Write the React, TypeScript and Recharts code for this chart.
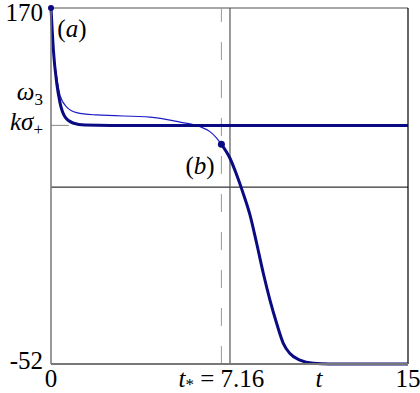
import { LineChart, Line, XAxis, YAxis, ReferenceLine, ReferenceDot } from 'recharts';

const FONT = "'Liberation Serif', 'DejaVu Serif', serif";
const NAVY = '#0a0a82';
const BLUE = '#1c1cc8';

const Y_MIN = -52;
const Y_MAX = 170;
const T_MAX = 15;
const T_STAR = 7.16;
const T_CROSS = 7.52;
const K_SIGMA = 96.8;
const OMEGA_3 = 114.5;
const LEVEL = 58.3;
const T_LABEL = 11.26;

// thick curve (a): fast decay onto k*sigma+
const curveA = [
  { t: 0, v: 170 },
  { t: 0.05, v: 156 },
  { t: 0.1, v: 143.8 },
  { t: 0.24, v: 123.2 },
  { t: 0.38, v: 110.8 },
  { t: 0.59, v: 102.0 },
  { t: 0.92, v: 98.3 },
  { t: 1.43, v: 97.0 },
  { t: 2.5, v: 96.8 },
  { t: 15, v: 96.8 },
];

// thin curve: slow decay up to t*
const curveThin = [
  { t: 0, v: 170 },
  { t: 0.08, v: 147 },
  { t: 0.24, v: 127 },
  { t: 0.38, v: 115.5 },
  { t: 0.66, v: 108.2 },
  { t: 1.08, v: 104.8 },
  { t: 1.92, v: 103.3 },
  { t: 4.16, v: 102 },
  { t: 5.42, v: 98.8 },
  { t: 6.26, v: 96.0 },
  { t: 6.68, v: 92.9 },
  { t: 6.96, v: 88.9 },
  { t: 7.16, v: 85.0 },
];

// thick curve (b): after t*
const curveB = [
  { t: 7.16, v: 85.0 },
  { t: 7.52, v: 76.3 },
  { t: 7.8, v: 66 },
  { t: 8.05, v: 55.5 },
  { t: 8.36, v: 41 },
  { t: 8.64, v: 23.3 },
  { t: 8.92, v: 4.6 },
  { t: 9.2, v: -12.1 },
  { t: 9.48, v: -26.6 },
  { t: 9.76, v: -39.1 },
  { t: 10.04, v: -45.5 },
  { t: 10.46, v: -49.6 },
  { t: 11.02, v: -51.6 },
  { t: 11.7, v: -52 },
  { t: 15, v: -52 },
];

const xTicks = [0, T_STAR, T_LABEL, T_MAX];
const yTicks = [Y_MIN, K_SIGMA, OMEGA_3, Y_MAX];

const textStyle = { fontFamily: FONT, fontSize: 25 };
const subStyle = { fontSize: 17 };

const YTick = ({ x, y, payload }: any) => {
  const v = payload.value;
  const base = { x: x, y: y, textAnchor: 'end' as const, fill: '#000', style: textStyle };
  if (v === OMEGA_3) {
    return (
      <text {...base} dy={3}>
        <tspan fontStyle="italic">ω</tspan>
        <tspan style={subStyle} dy={5}>3</tspan>
      </text>
    );
  }
  if (v === K_SIGMA) {
    return (
      <text {...base} dy={5}>
        <tspan fontStyle="italic">kσ</tspan>
        <tspan style={subStyle} dy={5}>+</tspan>
      </text>
    );
  }
  const dy = v === Y_MAX ? 12 : 5;
  return (
    <text {...base} dy={dy}>
      {v}
    </text>
  );
};

const XTick = ({ x, y, payload }: any) => {
  const v = payload.value;
  const base = { x: x, y: y, textAnchor: 'middle' as const, fill: '#000', style: textStyle };
  if (v === T_STAR) {
    return (
      <text {...base} dy={15}>
        <tspan fontStyle="italic">t</tspan>
        <tspan style={subStyle} dy={3}>*</tspan>
        <tspan dy={-3}> = 7.16</tspan>
      </text>
    );
  }
  if (v === T_LABEL) {
    return (
      <text {...base} dy={15} fontStyle="italic">
        t
      </text>
    );
  }
  return (
    <text {...base} dy={15}>
      {v}
    </text>
  );
};

const Note = ({ viewBox, text }: any) => (
  <text
    x={viewBox.x}
    y={viewBox.y}
    textAnchor="middle"
    dominantBaseline="central"
    fill="#000"
    style={textStyle}
  >
    (<tspan fontStyle="italic">{text}</tspan>)
  </text>
);

export default function App() {
  return (
    <div style={{ position: 'absolute', left: 0, top: 0, background: '#fff' }}>
      <LineChart width={420} height={393} margin={{ top: 8, right: 12, bottom: 0, left: 0 }}>
        <XAxis
          dataKey="t"
          type="number"
          domain={[0, T_MAX]}
          ticks={xTicks}
          tick={<XTick />}
          tickLine={false}
          axisLine={{ stroke: '#777', strokeWidth: 2 }}
          height={29}
          allowDuplicatedCategory={false}
        />
        <YAxis
          dataKey="v"
          type="number"
          domain={[Y_MIN, Y_MAX]}
          ticks={yTicks}
          tick={<YTick />}
          tickLine={false}
          tickSize={0}
          tickMargin={8}
          axisLine={{ stroke: '#777', strokeWidth: 1.5 }}
          width={51}
        />
        <ReferenceLine y={Y_MAX} stroke="#888" strokeWidth={1.5} />
        <ReferenceLine x={T_MAX} stroke="#000" strokeWidth={1.2} />
        <ReferenceLine y={LEVEL} stroke="#000" strokeWidth={1} />
        <ReferenceLine x={T_STAR} stroke="#999" strokeWidth={1} strokeDasharray="18 20" />
        <ReferenceLine x={T_CROSS} stroke="#555" strokeWidth={1.2} />
        <ReferenceLine
          segment={[
            { x: 0, y: K_SIGMA },
            { x: 0.75, y: K_SIGMA },
          ]}
          stroke="#888"
          strokeWidth={1}
        />
        <Line
          data={curveThin}
          dataKey="v"
          type="monotone"
          stroke={BLUE}
          strokeWidth={1.2}
          dot={false}
          isAnimationActive={false}
        />
        <Line
          data={curveA}
          dataKey="v"
          type="monotone"
          stroke={NAVY}
          strokeWidth={3}
          dot={false}
          isAnimationActive={false}
        />
        <Line
          data={curveB}
          dataKey="v"
          type="monotone"
          stroke={NAVY}
          strokeWidth={3}
          dot={false}
          isAnimationActive={false}
        />
        <ReferenceDot x={curveA[0].t} y={curveA[0].v} r={3} fill={NAVY} stroke="none" ifOverflow="visible" />
        <ReferenceDot x={curveB[0].t} y={curveB[0].v} r={3.5} fill={NAVY} stroke="none" />
        <ReferenceDot x={0.88} y={157.5} r={0} label={<Note text="a" />} />
        <ReferenceDot x={6.26} y={72} r={0} label={<Note text="b" />} />
      </LineChart>
    </div>
  );
}
